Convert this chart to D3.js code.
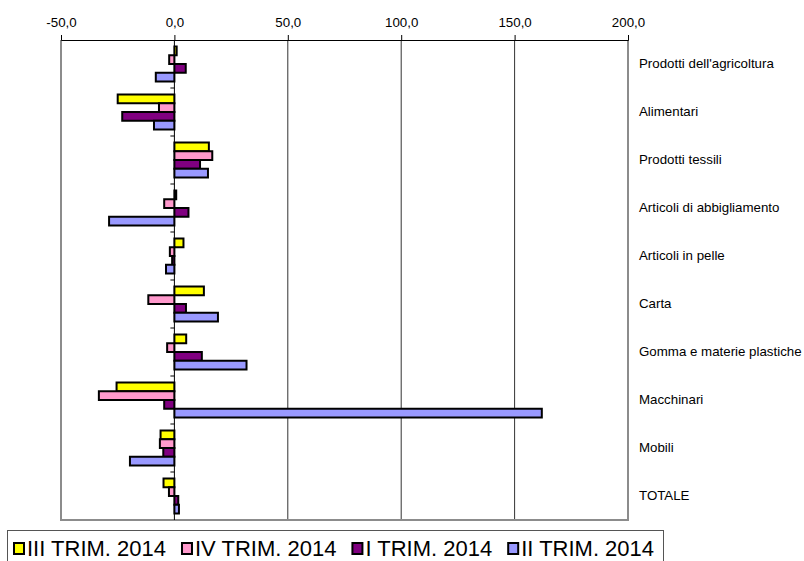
<!DOCTYPE html>
<html>
<head>
<meta charset="utf-8">
<script src="https://cdn.jsdelivr.net/npm/d3@7"></script>
<style>
  body { margin: 0; background: #fff; }
  svg { display: block; font-family: "Liberation Sans", Arial, sans-serif; }
</style>
</head>
<body>
<svg id="chart" width="804" height="561"></svg>
<script>
'use strict';

// categories (top to bottom)
var categories = [
  "Prodotti dell'agricoltura",
  'Alimentari',
  'Prodotti tessili',
  'Articoli di abbigliamento',
  'Articoli in pelle',
  'Carta',
  'Gomma e materie plastiche',
  'Macchinari',
  'Mobili',
  'TOTALE'
];

// series names, in legend order
var seriesNames = ['III TRIM. 2014', 'IV TRIM. 2014', 'I TRIM. 2014', 'II TRIM. 2014'];
var seriesColors = ['#ffff00', '#ff99cc', '#800080', '#9999ff'];

// values
var trim3 = [1.0, -25.0, 15.2, 0.8, 4.0, 13.0, 5.2, -25.5, -6.1, -4.8];
var trim4 = [-2.3, -6.8, 16.7, -4.5, -2.0, -11.5, -3.2, -33.3, -6.4, -2.4];
var trim1 = [5.0, -23.0, 11.3, 6.2, -1.0, 5.1, 12.1, -4.5, -4.9, 1.7];
var trim2 = [-8.2, -9.0, 14.8, -28.8, -3.7, 19.2, 31.8, 162.0, -19.6, 2.0];

// axis ticks
var xTicks = [-50, 0, 50, 100, 150, 200];

var seriesValues = [trim3, trim4, trim1, trim2];

var svg = d3.select('#chart');

// plot area
var plot = { left: 61, right: 628, top: 40, bottom: 520 };

var x = d3.scaleLinear()
  .domain([-50, 200])
  .range([plot.left, plot.right]);

var y0 = d3.scaleBand()
  .domain(categories)
  .range([plot.top, plot.bottom]);

var y1 = d3.scaleBand()
  .domain(d3.range(seriesNames.length))
  .range([6.5, y0.bandwidth() - 6.5]);

// italian style numbers, plain hyphen for minus
var fmt = function(d){ return d.toFixed(1).replace('.', ','); };

// vertical gridlines
svg.append('g')
  .selectAll('line')
  .data(xTicks.filter(function(d){ return d > 0 && d < 200; }))
  .enter().append('line')
    .attr('x1', function(d){ return x(d); })
    .attr('x2', function(d){ return x(d); })
    .attr('y1', plot.top)
    .attr('y2', plot.bottom)
    .attr('stroke', '#333')
    .attr('stroke-width', 1);

// plot frame (left, right, bottom)
svg.append('path')
  .attr('d', 'M' + plot.left + ',' + plot.top + 'V' + plot.bottom + 'H' + plot.right + 'V' + plot.top)
  .attr('fill', 'none')
  .attr('stroke', '#8c8c8c')
  .attr('stroke-width', 2);

// top axis
var xAxis = svg.append('g')
  .attr('transform', 'translate(0,' + plot.top + ')')
  .call(d3.axisTop(x).tickValues(xTicks).tickFormat(fmt).tickSize(5).tickPadding(8));
xAxis.select('.domain').attr('stroke', '#000');
xAxis.selectAll('.tick line').attr('stroke', '#000');
xAxis.selectAll('text')
  .attr('fill', '#000')
  .style('font-size', '13.3px')
  .style('font-family', '"Liberation Sans", Arial, sans-serif');

// bars
var groups = svg.append('g')
  .selectAll('g')
  .data(categories)
  .enter().append('g')
    .attr('transform', function(d){ return 'translate(0,' + y0(d) + ')'; });

groups.selectAll('rect')
  .data(function(d, i){
    return seriesValues.map(function(s, k){ return { k: k, v: s[i] }; });
  })
  .enter().append('rect')
    .attr('x', function(d){ return x(Math.min(0, d.v)); })
    .attr('width', function(d){ return Math.abs(x(d.v) - x(0)); })
    .attr('y', function(d){ return y1(d.k); })
    .attr('height', y1.bandwidth())
    .attr('fill', function(d){ return seriesColors[d.k]; })
    .attr('stroke', '#000')
    .attr('stroke-width', 2);

// category axis at zero
var yAxis = svg.append('g')
  .attr('transform', 'translate(' + x(0) + ',0)');
yAxis.append('line')
  .attr('y1', plot.top)
  .attr('y2', plot.bottom)
  .attr('stroke', '#000');
yAxis.selectAll('.cat-tick')
  .data(categories.slice(1))
  .enter().append('line')
    .attr('class', 'cat-tick')
    .attr('x1', -4)
    .attr('x2', 0)
    .attr('y1', function(d){ return y0(d); })
    .attr('y2', function(d){ return y0(d); })
    .attr('stroke', '#000');

// category labels on the right
svg.append('g')
  .selectAll('text')
  .data(categories)
  .enter().append('text')
    .attr('x', 639)
    .attr('y', function(d){ return y0(d) + y0.bandwidth() / 2 - 1; })
    .attr('dy', '0.35em')
    .style('font-size', '13.3px')
    .text(function(d){ return d; });

// legend
var legend = svg.append('g');
legend.append('rect')
  .attr('x', 7.5)
  .attr('y', 530.5)
  .attr('width', 656)
  .attr('height', 40)
  .attr('fill', '#fff')
  .attr('stroke', '#555');

var lx = 13;
seriesNames.forEach(function(name, k){
  legend.append('rect')
    .attr('x', lx + 1)
    .attr('y', 543)
    .attr('width', 10)
    .attr('height', 11)
    .attr('fill', seriesColors[k])
    .attr('stroke', '#000')
    .attr('stroke-width', 2);
  var t = legend.append('text')
    .attr('x', lx + 14)
    .attr('y', 556)
    .style('font-size', '22px')
    .text(name);
  lx += 14 + t.node().getComputedTextLength() + 15;
});
</script>
</body>
</html>
